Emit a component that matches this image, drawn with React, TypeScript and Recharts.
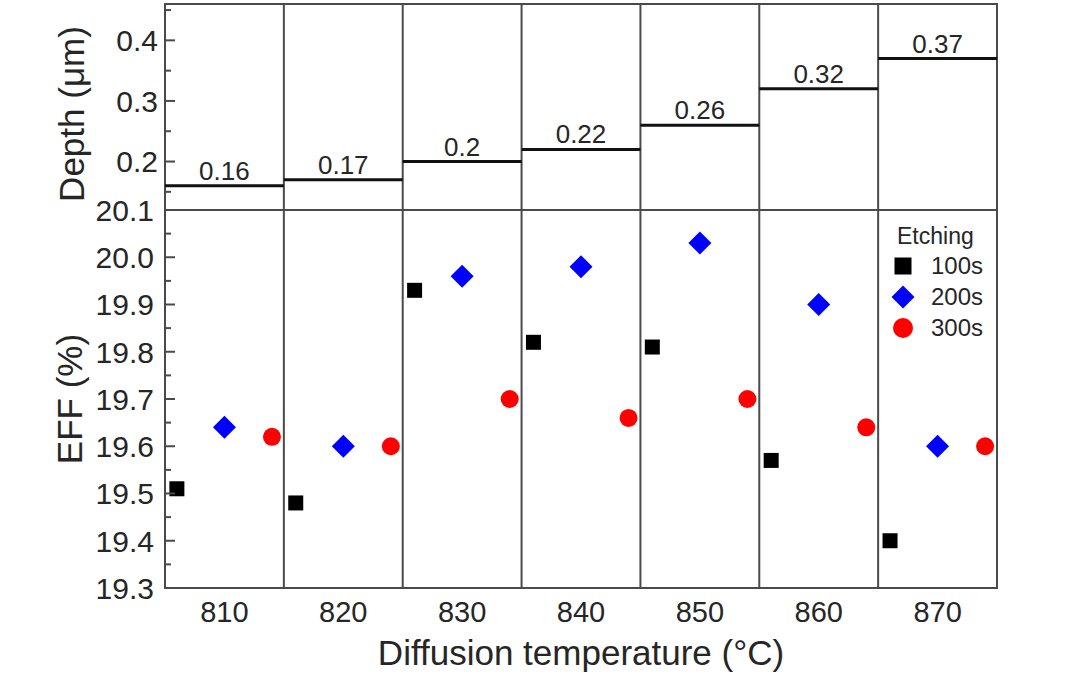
import React from 'react';
import { ComposedChart, ScatterChart, Scatter, XAxis, YAxis, ReferenceLine, ReferenceArea, Legend } from 'recharts';

// diffusion temperatures (one column each)
const temps = [810, 820, 830, 840, 850, 860, 870];

// junction depth per temperature (µm)
const depths = [0.16, 0.17, 0.2, 0.22, 0.26, 0.32, 0.37];
const depthLabels = ['0.16', '0.17', '0.2', '0.22', '0.26', '0.32', '0.37'];

// efficiency (%) for each etching time
const eff100 = [19.51, 19.48, 19.93, 19.82, 19.81, 19.57, 19.4];
const eff200 = [19.64, 19.6, 19.96, 19.98, 20.03, 19.9, 19.6];
const eff300 = [19.62, 19.6, 19.7, 19.66, 19.7, 19.64, 19.6];
const seriesNames = ['100s', '200s', '300s'];

const effMajor = [19.3, 19.4, 19.5, 19.6, 19.7, 19.8, 19.9, 20.0, 20.1];
const effMinor = [19.35, 19.45, 19.55, 19.65, 19.75, 19.85, 19.95, 20.05];
const depthMajor = [0.2, 0.3, 0.4];
const depthMinor = [0.15, 0.25, 0.35, 0.45];

const FONT = '"Liberation Sans", Arial, Helvetica, sans-serif';
const TEXT = '#262626';
const FRAME = '#4a4a4a';
const W = 1080;
const PLOT_LEFT = 165;
const RIGHT = 83;
const X_DOMAIN: [number, number] = [805, 875];
const SHIFT = 4; // 100s sits left of the column centre, 300s right

const borders = temps.slice(0, -1).map(t => t + 5);

const isMajor = (v: number, list: number[]) => list.some(m => Math.abs(m - v) < 1e-6);

const makeYTick = (majors: number[], textX: number) => (props: any) => {
    const { y, payload } = props;
    const major = isMajor(payload.value, majors);
    return (
        <g>
            <line x1={PLOT_LEFT} x2={PLOT_LEFT + (major ? 10 : 6)} y1={y} y2={y} stroke={FRAME} strokeWidth={2} />
            {major && (
                <text x={textX} y={y} dy="0.36em" textAnchor="end" fontSize={30} fontFamily={FONT} fill={TEXT}>
                    {payload.value.toFixed(1)}
                </text>
            )}
        </g>
    );
};

const XTick = (props: any) => (
    <text x={props.x} y={622} textAnchor="middle" fontSize={29} fontFamily={FONT} fill={TEXT}>
        {props.payload.value}
    </text>
);

const EffTitle = () => (
    <text x={82} y={399} transform="rotate(-90 82 399)" textAnchor="middle" fontSize={35} fontFamily={FONT} fill={TEXT}>
        EFF (%)
    </text>
);

const DepthTitle = () => (
    <text x={84} y={114} transform="rotate(-90 84 114)" textAnchor="middle" fontSize={35} fontFamily={FONT} fill={TEXT}>
        Depth (μm)
    </text>
);

const Square = ({ cx, cy, size = 15 }: any) => (
    <rect x={cx - size / 2} y={cy - size / 2} width={size} height={size} fill="#000" />
);
const Diamond = ({ cx, cy, size = 23 }: any) => (
    <polygon
        points={`${cx},${cy - size / 2} ${cx + size / 2},${cy} ${cx},${cy + size / 2} ${cx - size / 2},${cy}`}
        fill="#0000ff"
    />
);
const Dot = ({ cx, cy, size = 18 }: any) => <circle cx={cx} cy={cy} r={size / 2} fill="#ff0000" />;

const series = [
    { name: seriesNames[0], values: eff100, shift: -SHIFT, Shape: Square, legendSize: 17 },
    { name: seriesNames[1], values: eff200, shift: 0, Shape: Diamond, legendSize: 23 },
    { name: seriesNames[2], values: eff300, shift: SHIFT, Shape: Dot, legendSize: 20 },
];

const LegendBox = () => (
    <div style={{ fontFamily: FONT, color: TEXT, width: 112 }}>
        <div style={{ fontSize: 23, lineHeight: '28px', paddingLeft: 15 }}>Etching</div>
        {series.map(s => (
            <div key={s.name} style={{ display: 'flex', alignItems: 'center', height: 31 }}>
                <svg width={24} height={24} style={{ marginLeft: 9, marginRight: 16 }}>
                    <s.Shape cx={12} cy={12} size={s.legendSize} />
                </svg>
                <span style={{ fontSize: 24 }}>{s.name}</span>
            </div>
        ))}
    </div>
);

const depthData = temps.map((t, i) => ({ x: t, y: depths[i] }));

export default function App() {
    return (
        <div style={{ position: 'absolute', left: 0, top: 0, width: W, height: 678, background: '#fff' }}>
            <div style={{ position: 'absolute', left: 0, top: 0 }}>
                <ScatterChart width={W} height={678} margin={{ top: 210, right: RIGHT, bottom: 0, left: 0 }}>
                    <XAxis
                        type="number"
                        dataKey="x"
                        domain={X_DOMAIN}
                        allowDataOverflow
                        ticks={temps}
                        interval={0}
                        tickLine={false}
                        axisLine={false}
                        height={90}
                        tick={XTick}
                        label={{
                            value: 'Diffusion temperature (°C)',
                            position: 'insideBottom',
                            offset: 13,
                            fontSize: 35,
                            fontFamily: FONT,
                            fill: TEXT,
                        }}
                    />
                    <YAxis
                        type="number"
                        dataKey="y"
                        domain={[19.3, 20.1]}
                        allowDataOverflow
                        ticks={[...effMajor, ...effMinor]}
                        interval={0}
                        width={PLOT_LEFT}
                        tickLine={false}
                        axisLine={false}
                        tick={makeYTick(effMajor, 154)}
                        label={<EffTitle />}
                    />
                    <ReferenceArea x1={X_DOMAIN[0]} x2={X_DOMAIN[1]} y1={19.3} y2={20.1} fill="none" stroke={FRAME} strokeWidth={2} />
                    {borders.map(b => (
                        <ReferenceLine key={b} x={b} stroke={FRAME} strokeWidth={2} />
                    ))}
                    {series.map(s => (
                        <Scatter
                            key={s.name}
                            name={s.name}
                            data={temps.map((t, i) => ({ x: t + s.shift, y: s.values[i] }))}
                            shape={(p: any) => <s.Shape cx={p.cx} cy={p.cy} />}
                            isAnimationActive={false}
                        />
                    ))}
                    <Legend
                        layout="horizontal"
                        verticalAlign="middle"
                        align="center"
                        content={LegendBox}
                        wrapperStyle={{ left: 882, top: 222, width: 112 }}
                    />
                </ScatterChart>
            </div>
            <div style={{ position: 'absolute', left: 0, top: 0 }}>
                <ComposedChart width={W} height={212} data={depthData} margin={{ top: 4, right: RIGHT, bottom: 2, left: 0 }}>
                    <XAxis type="number" dataKey="x" domain={X_DOMAIN} allowDataOverflow hide />
                    <YAxis
                        type="number"
                        domain={[0.12, 0.46]}
                        allowDataOverflow
                        ticks={[...depthMajor, ...depthMinor]}
                        interval={0}
                        width={PLOT_LEFT}
                        tickLine={false}
                        axisLine={false}
                        tick={makeYTick(depthMajor, 158)}
                        label={<DepthTitle />}
                    />
                    <ReferenceArea x1={X_DOMAIN[0]} x2={X_DOMAIN[1]} y1={0.12} y2={0.46} fill="none" stroke={FRAME} strokeWidth={2} />
                    {borders.map(b => (
                        <ReferenceLine key={b} x={b} stroke={FRAME} strokeWidth={2} />
                    ))}
                    {temps.map((t, i) => (
                        <ReferenceLine
                            key={t}
                            segment={[{ x: t - 5, y: depths[i] }, { x: t + 5, y: depths[i] }]}
                            stroke="#111"
                            strokeWidth={3}
                            label={{
                                value: depthLabels[i],
                                position: 'top',
                                offset: 6,
                                fontSize: 26,
                                fontFamily: FONT,
                                fill: TEXT,
                            }}
                        />
                    ))}
                </ComposedChart>
            </div>
        </div>
    );
}
